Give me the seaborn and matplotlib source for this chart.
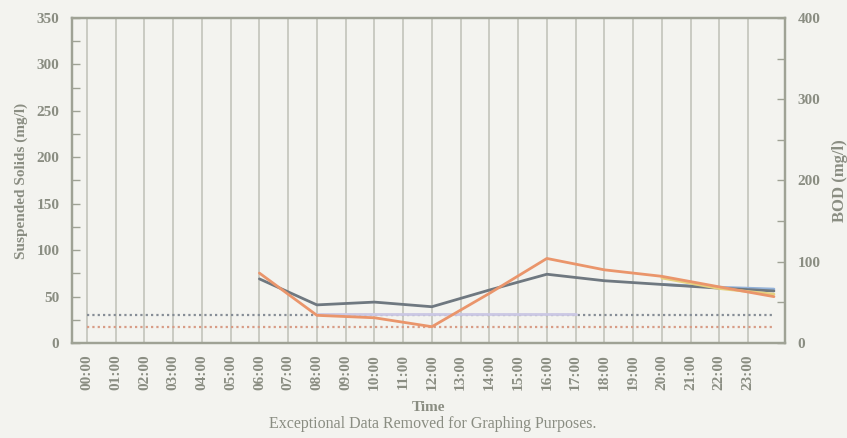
import matplotlib

matplotlib.use("Agg")

import matplotlib.pyplot as plt
import pandas as pd
import seaborn as sns
from matplotlib.ticker import MultipleLocator

# Data
hour_labels = [f"{h:02d}:00" for h in range(24)]

sample_hours = [6, 8, 10, 12, 14, 16, 18, 20, 22, 23.9]
ss_values = [69, 41, 44, 39, 57, 74, 67, 63, 59, 56]  # left axis, mg/l
bod_values = [86, 34, 31, 20, 61, 104, 90, 82, 69, 57]  # right axis, mg/l

ss_comp_hours = [20, 22, 23.9]
ss_comp_values = [63, 60, 58]
bod_comp_hours = [20, 22, 23.9]
bod_comp_values = [80, 67, 60]

flat_hours = [8, 10, 12, 14, 16, 17]
flat_values = [31, 31, 31, 31, 31, 31]

limit_hours = [0, 23.9]
ss_limit = [30, 30]
bod_limit = [20, 20]

# Style
BG = "#f3f3ef"
TXT = "#8a8d82"
SPINE = "#9fa295"

sns.set_style("white")
plt.rcParams["font.family"] = ["Liberation Serif", "DejaVu Serif"]
plt.rcParams["font.size"] = 11
plt.rcParams["font.weight"] = "bold"
plt.rcParams["axes.labelweight"] = "bold"

df = pd.DataFrame({"hour": sample_hours, "ss": ss_values, "bod": bod_values})

fig = plt.figure(figsize=(8.47, 4.38), dpi=100, facecolor=BG)
ax = fig.add_axes([0.085, 0.217, 0.842, 0.742])
ax.set_facecolor(BG)
ax2 = ax.twinx()

# hour gridlines
for h in range(24):
    ax.axvline(h, color="#c2c3bb", lw=1.2, zorder=0)

sns.lineplot(x=limit_hours, y=ss_limit, ax=ax, color="#868d96", lw=1.6,
             linestyle=(0, (1, 1.4)))
sns.lineplot(x=flat_hours, y=flat_values, ax=ax, color="#cbc8e4", lw=2)
sns.lineplot(x=ss_comp_hours, y=ss_comp_values, ax=ax, color="#93b2d9", lw=2)
sns.lineplot(data=df, x="hour", y="ss", ax=ax, color="#6f7880", lw=2)

sns.lineplot(x=limit_hours, y=bod_limit, ax=ax2, color="#d89c86", lw=1.6,
             linestyle=(0, (1, 1.4)))
sns.lineplot(x=bod_comp_hours, y=bod_comp_values, ax=ax2, color="#e6d07e", lw=2)
sns.lineplot(data=df, x="hour", y="bod", ax=ax2, color="#ea956b", lw=2)

ax.set_xlim(-0.52, 24.29)
ax.set_ylim(0, 350)
ax2.set_ylim(0, 400)

ax.set_xticks(range(24))
ax.set_xticklabels(hour_labels, rotation=90, color=TXT)
ax.yaxis.set_major_locator(MultipleLocator(50))
ax.yaxis.set_minor_locator(MultipleLocator(25))
ax2.yaxis.set_major_locator(MultipleLocator(100))
ax2.yaxis.set_minor_locator(MultipleLocator(50))

ax.tick_params(axis="x", length=0, pad=8, colors=TXT)
ax.tick_params(axis="y", which="both", direction="in", length=6, width=1,
               color=SPINE, labelcolor=TXT, pad=9)
ax2.tick_params(axis="y", which="both", direction="in", length=6, width=1,
                color=SPINE, labelcolor=TXT, pad=9)

ax.set_xlabel("Time", color=TXT, labelpad=8)
ax.set_ylabel("Suspended Solids (mg/l)", color=TXT, labelpad=6)
ax2.set_ylabel("BOD (mg/l)", color=TXT, labelpad=8, fontsize=12)

for a in (ax, ax2):
    for s in a.spines.values():
        s.set_color(SPINE)
        s.set_linewidth(1.6)

fig.text(0.511, 0.033, "Exceptional Data Removed for Graphing Purposes.",
         ha="center", va="center", color=TXT, fontsize=11.5, fontweight="normal")

fig.savefig("out.png", dpi=100, facecolor=BG)
